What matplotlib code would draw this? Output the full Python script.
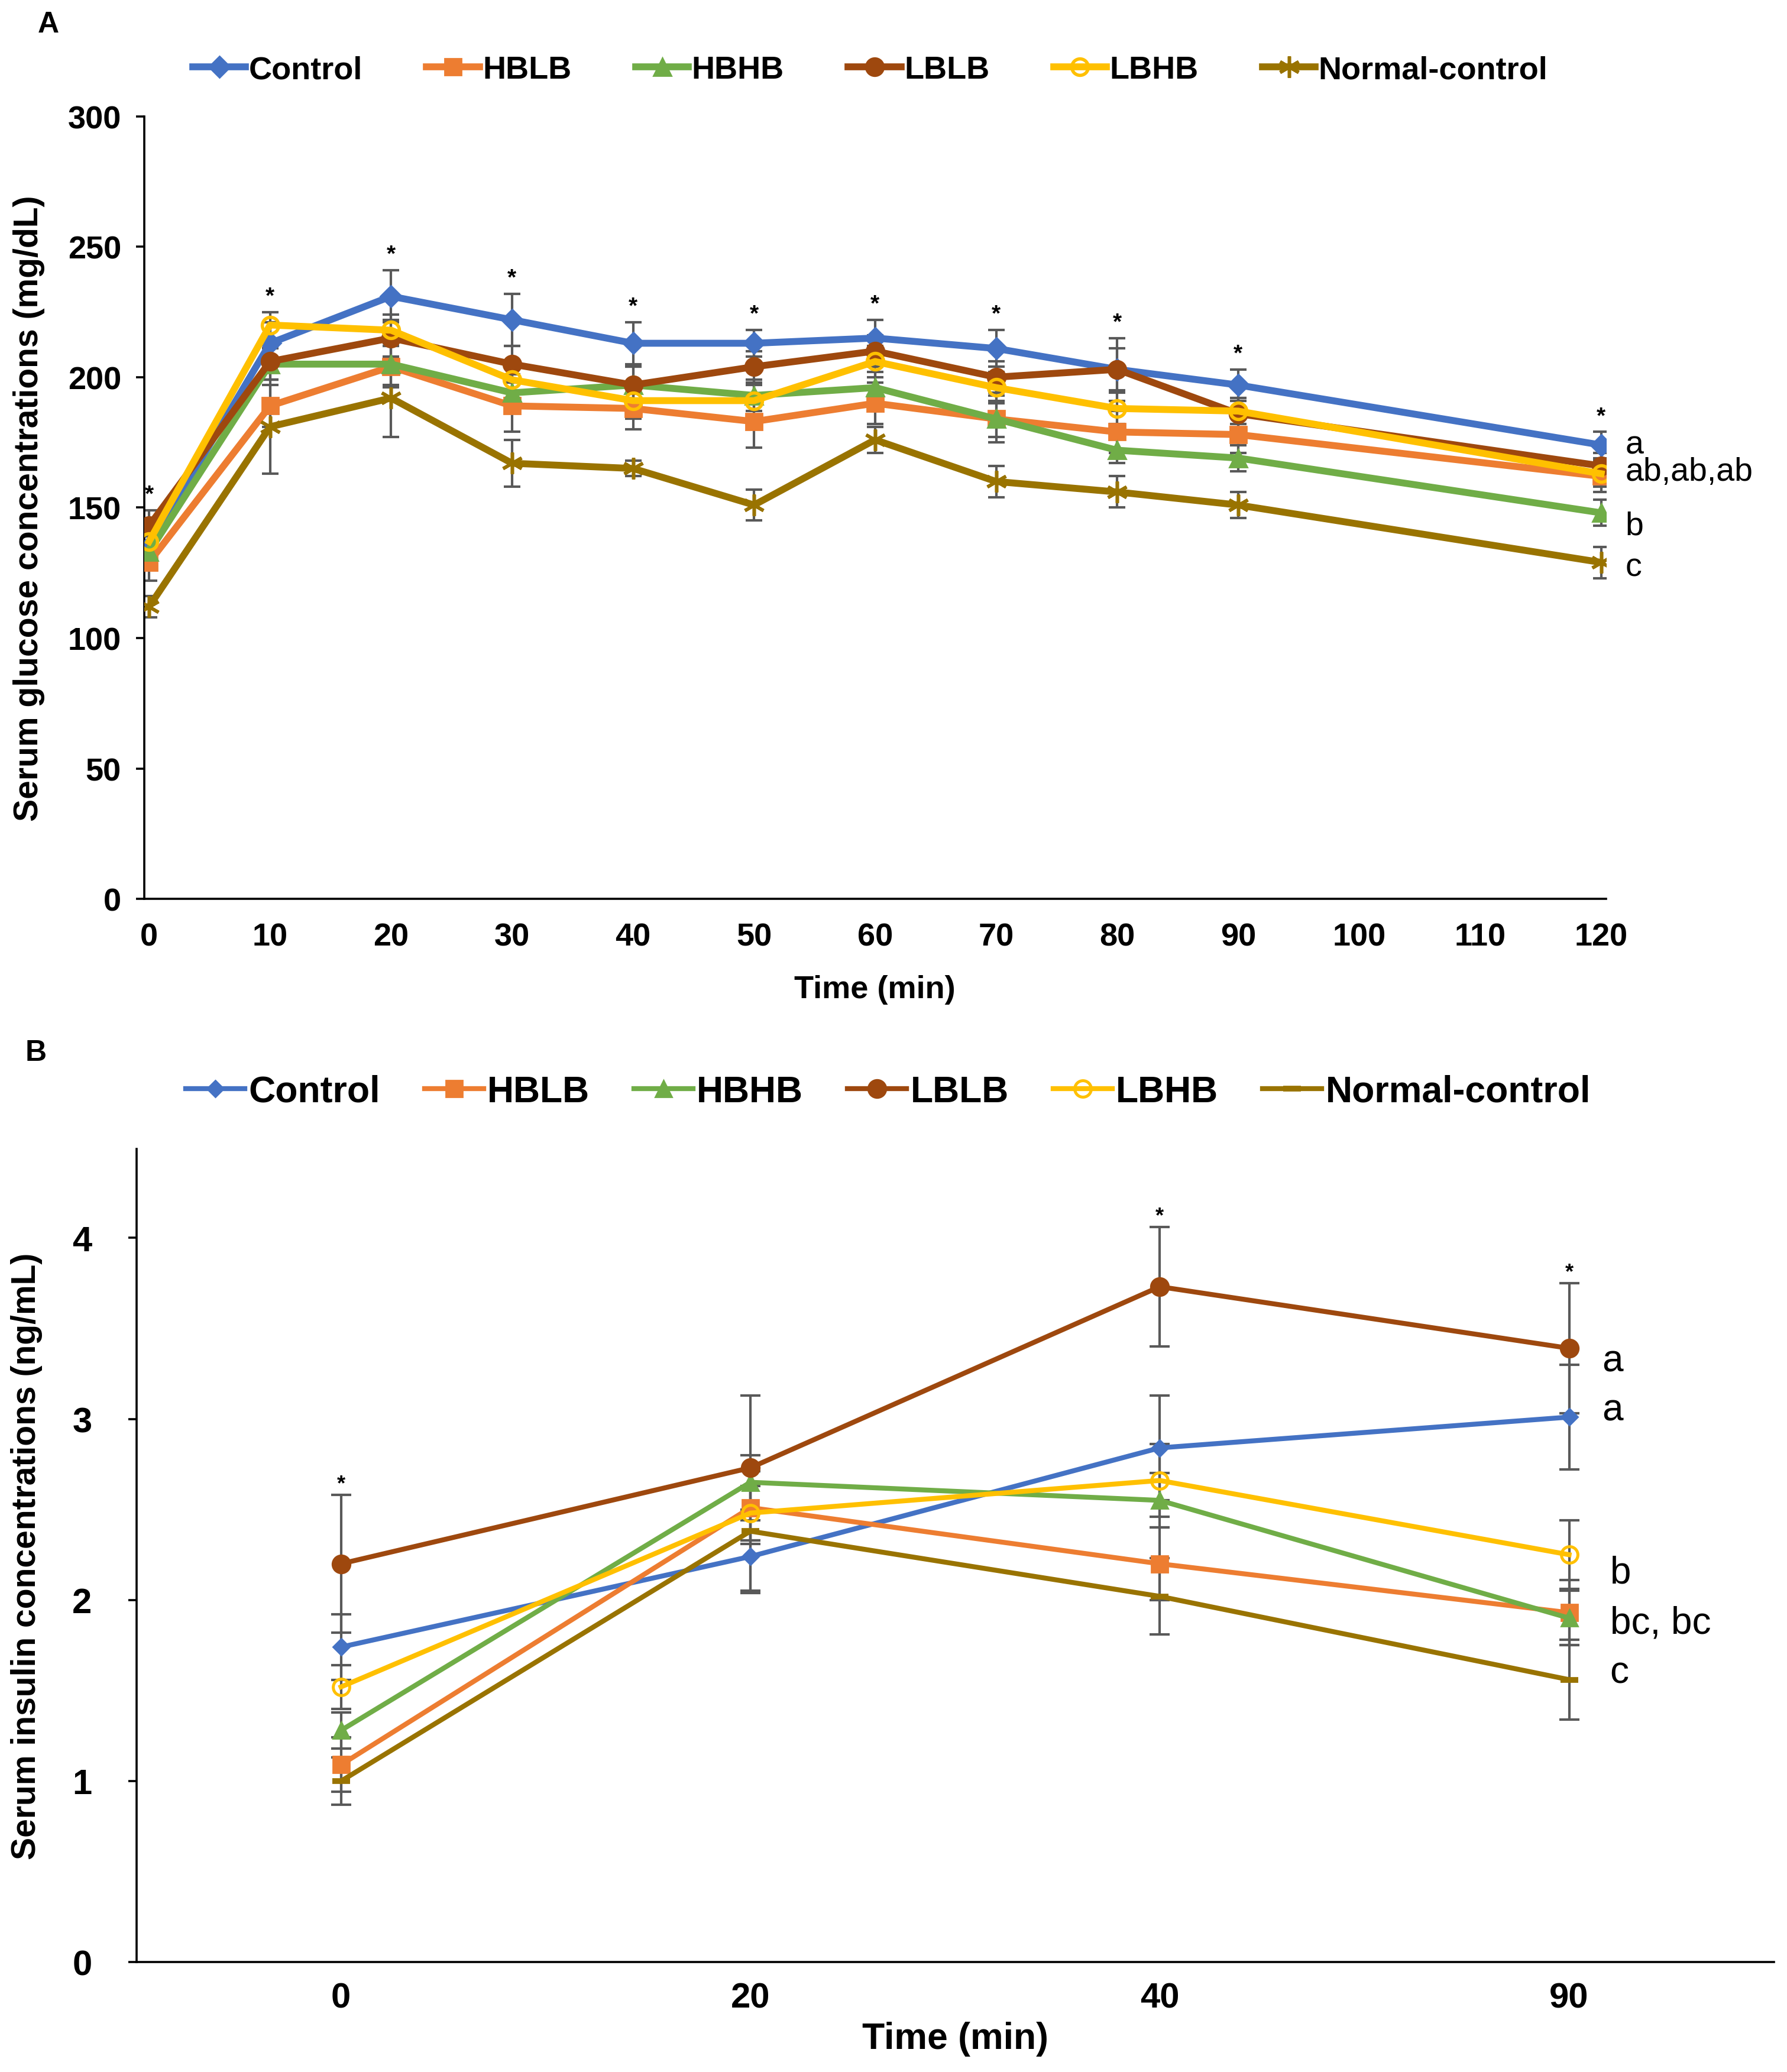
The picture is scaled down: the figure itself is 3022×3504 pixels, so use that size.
import numpy as np
import matplotlib
matplotlib.use('Agg')
import matplotlib.pyplot as plt

plt.rcParams['font.family'] = ['Liberation Sans', 'DejaVu Sans']

# ---- shared series info ----
groups = ["Control", "HBLB", "HBHB", "LBLB", "LBHB", "Normal-control"]
colors = ["#4472C4", "#ED7D31", "#70AD47", "#9E480E", "#FFC000", "#997300"]

# ---- panel A: glucose ----
time_a = [0, 10, 20, 30, 40, 50, 60, 70, 80, 90, 120]
glucose = {
    "Control":        [135, 213, 231, 222, 213, 213, 215, 211, 203, 197, 174],
    "HBLB":           [129, 189, 204, 189, 188, 183, 190, 184, 179, 178, 162],
    "HBHB":           [133, 205, 205, 194, 197, 193, 196, 184, 172, 169, 148],
    "LBLB":           [143, 206, 215, 205, 197, 204, 210, 200, 203, 186, 166],
    "LBHB":           [137, 220, 218, 199, 191, 191, 206, 196, 188, 187, 163],
    "Normal-control": [112, 181, 192, 167, 165, 151, 176, 160, 156, 151, 129],
}
glucose_err = {
    "Control":        [5, 8, 10, 10, 8, 5, 7, 7, 8, 6, 5],
    "HBLB":           [7, 8, 8, 10, 8, 10, 8, 9, 8, 7, 6],
    "HBHB":           [6, 6, 8, 7, 7, 6, 6, 7, 5, 5, 5],
    "LBLB":           [6, 7, 7, 7, 7, 6, 6, 6, 12, 6, 5],
    "LBHB":           [5, 5, 6, 7, 7, 6, 6, 6, 6, 5, 5],
    "Normal-control": [4, 18, 15, 9, 3, 6, 5, 6, 6, 5, 6],
}
letters_a = ["a", "ab,ab,ab", "b", "c"]

# ---- panel B: insulin ----
time_b = ["0", "20", "40", "90"]
insulin = {
    "Control":        [1.74, 2.24, 2.84, 3.01],
    "HBLB":           [1.09, 2.51, 2.20, 1.93],
    "HBHB":           [1.28, 2.65, 2.55, 1.90],
    "LBLB":           [2.20, 2.73, 3.73, 3.39],
    "LBHB":           [1.52, 2.48, 2.66, 2.25],
    "Normal-control": [1.00, 2.38, 2.02, 1.56],
}
insulin_err = {
    "Control":        [0.18, 0.20, 0.29, 0.29],
    "HBLB":           [0.15, 0.20, 0.20, 0.18],
    "HBHB":           [0.10, 0.15, 0.15, 0.15],
    "LBLB":           [0.38, 0.40, 0.33, 0.36],
    "LBHB":           [0.12, 0.15, 0.20, 0.19],
    "Normal-control": [0.13, 0.33, 0.21, 0.22],
}
stars_b = [0, 2, 3]
letters_b = ["a", "a", "b", "bc, bc", "c"]

markers_a = ["D", "s", "^", "o", "o", (6, 2, 0)]
sizes_a = [9, 10, 11, 11, 10, 13]
markers_b = ["D", "s", "^", "o", "o", "_"]
sizes_b = [7, 10, 10, 11, 10, 11]
err_color = "#595959"

fig = plt.figure(figsize=(15.11, 17.525), dpi=200)

# ================= Panel A =================
ax = fig.add_axes([0.0807, 0.566, 0.818, 0.3776])
for i, g in enumerate(groups):
    ax.errorbar(time_a, glucose[g], yerr=glucose_err[g], fmt='none',
                ecolor=err_color, elinewidth=1.5, capsize=5, capthick=1.5, zorder=2)
for i, g in enumerate(groups):
    open_mk = g == "LBHB"
    ax.plot(time_a, glucose[g], color=colors[i], lw=4.2, marker=markers_a[i],
            ms=sizes_a[i],
            mfc='none' if open_mk else colors[i], mec=colors[i],
            mew=2 if open_mk or g == "Normal-control" else 1,
            label=g, zorder=3)

# significance stars above highest error bar
tops_a = np.max([np.array(glucose[g]) + np.array(glucose_err[g]) for g in groups], axis=0)
for t, top in zip(time_a, tops_a):
    ax.text(t, top + 6, "*", ha='center', va='center', fontsize=14, fontweight='bold')

# group letters at 120 min
ends_a = [glucose["Control"][-1],
          np.mean([glucose["HBLB"][-1], glucose["LBLB"][-1], glucose["LBHB"][-1]]),
          glucose["HBHB"][-1] - 5,
          glucose["Normal-control"][-1] - 2]
for lab, y in zip(letters_a, ends_a):
    ax.text(122, y, lab, ha='left', va='center', fontsize=20, clip_on=False)

ax.set_xlim(-0.4, 120.4)
ax.set_ylim(0, 300)
ax.set_xticks(np.arange(0, 121, 10))
ax.set_yticks(np.arange(0, 301, 50))
ax.spines['top'].set_visible(False)
ax.spines['right'].set_visible(False)
ax.spines['left'].set_linewidth(1.3)
ax.spines['bottom'].set_linewidth(1.3)
ax.tick_params(axis='y', direction='out', length=5, width=1.3, labelsize=19.5, pad=9)
ax.tick_params(axis='x', length=0, labelsize=19.5, pad=14)
for lbl in ax.get_xticklabels() + ax.get_yticklabels():
    lbl.set_fontweight('bold')
ax.set_xlabel("Time (min)", fontsize=19.5, fontweight='bold', labelpad=14)
ax.set_ylabel("Serum glucose concentrations (mg/dL)", fontsize=20.5, fontweight='bold', labelpad=14)

h, l = ax.get_legend_handles_labels()
fig.legend(h, l, loc='center', bbox_to_anchor=(0.487, 0.966), ncol=6, frameon=False,
           prop={'weight': 'bold', 'size': 19.5}, handlelength=1.65, handletextpad=0.1,
           columnspacing=2.0)
fig.text(0.027, 0.988, "A", fontsize=18, fontweight='bold', ha='center', va='center')

# ================= Panel B =================
bx = fig.add_axes([0.0763, 0.053, 0.9163, 0.3923])
xb = np.arange(len(time_b))
for i, g in enumerate(groups):
    bx.errorbar(xb, insulin[g], yerr=insulin_err[g], fmt='none',
                ecolor=err_color, elinewidth=1.5, capsize=6, capthick=1.5, zorder=2)
for i, g in enumerate(groups):
    open_mk = g == "LBHB"
    bx.plot(xb, insulin[g], color=colors[i], lw=3, marker=markers_b[i],
            ms=sizes_b[i],
            mfc='none' if open_mk else colors[i], mec=colors[i],
            mew=3.5 if g == "Normal-control" else (1.8 if open_mk else 1),
            label=g, zorder=3)

tops_b = np.max([np.array(insulin[g]) + np.array(insulin_err[g]) for g in groups], axis=0)
for k in stars_b:
    bx.text(xb[k], tops_b[k] + 0.06, "*", ha='center', va='center', fontsize=13, fontweight='bold')

ends_b = [insulin["LBLB"][-1] - 0.07, insulin["Control"][-1] + 0.04,
          insulin["LBHB"][-1] - 0.1,
          np.mean([insulin["HBLB"][-1], insulin["HBHB"][-1]]) - 0.04,
          insulin["Normal-control"][-1] + 0.04]
for k, (lab, y) in enumerate(zip(letters_b, ends_b)):
    xoff = 3.08 if k < 2 else 3.1
    bx.text(xoff, y, lab, ha='left', va='center', fontsize=23)

bx.set_xlim(-0.5, 3.5)
bx.set_ylim(0, 4.49)
bx.set_xticks(xb)
bx.set_xticklabels(time_b)
bx.set_yticks(np.arange(0, 5, 1))
bx.spines['top'].set_visible(False)
bx.spines['right'].set_visible(False)
bx.spines['left'].set_linewidth(1.3)
bx.spines['bottom'].set_linewidth(1.3)
bx.tick_params(axis='y', direction='out', length=5, width=1.3, labelsize=21.5, pad=22)
bx.tick_params(axis='x', length=0, labelsize=21.5, pad=12)
for lbl in bx.get_xticklabels() + bx.get_yticklabels():
    lbl.set_fontweight('bold')
bx.set_xlabel("Time (min)", fontsize=22.5, fontweight='bold', labelpad=4)
bx.set_ylabel("Serum insulin concentrations (ng/mL)", fontsize=20.5, fontweight='bold', labelpad=18)

h, l = bx.get_legend_handles_labels()
fig.legend(h, l, loc='center', bbox_to_anchor=(0.497, 0.473), ncol=6, frameon=False,
           prop={'weight': 'bold', 'size': 22.5}, handlelength=1.6, handletextpad=0.1,
           columnspacing=1.2)
fig.text(0.02, 0.492, "B", fontsize=18, fontweight='bold', ha='center', va='center')

fig.savefig("out.png", dpi=200)
